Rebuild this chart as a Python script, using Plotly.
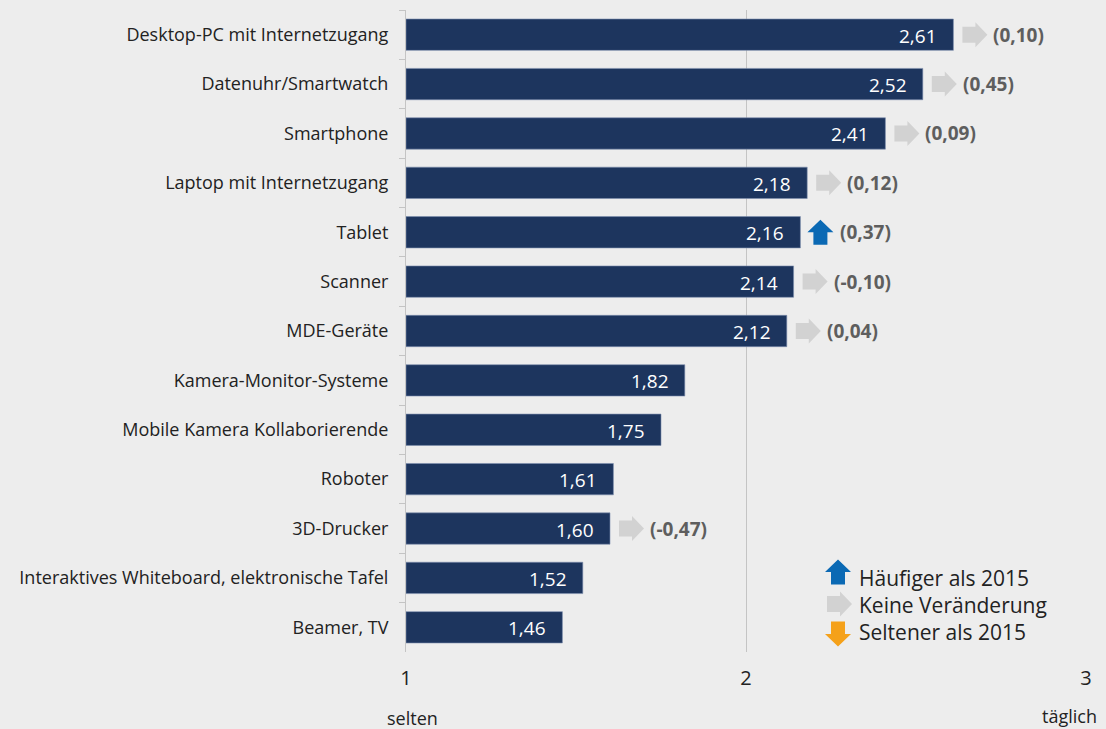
import plotly.graph_objects as go

categories = [
    "Desktop-PC mit Internetzugang",
    "Datenuhr/Smartwatch",
    "Smartphone",
    "Laptop mit Internetzugang",
    "Tablet",
    "Scanner",
    "MDE-Geräte",
    "Kamera-Monitor-Systeme",
    "Mobile Kamera Kollaborierende",
    "Roboter",
    "3D-Drucker",
    "Interaktives Whiteboard, elektronische Tafel",
    "Beamer, TV",
]
values = [2.61, 2.52, 2.41, 2.18, 2.16, 2.14, 2.12, 1.82, 1.75, 1.61, 1.60, 1.52, 1.46]
changes = ["(0,10)", "(0,45)", "(0,09)", "(0,12)", "(0,37)", "(-0,10)", "(0,04)",
           None, None, None, "(-0,47)", None, None]
trends = ["same", "same", "same", "same", "up", "same", "same",
          None, None, None, "same", None, None]
x_ticks = [1, 2, 3]
x_end_labels = ["selten", "täglich"]
legend_items = [("up", "Häufiger als 2015"), ("same", "Keine Veränderung"), ("down", "Seltener als 2015")]

FONT = "Open Sans"
BAR = "#1d355e"
BG = "#ededed"
GRAY_ARROW = "#d2d2d2"
BLUE = "#0b69b4"
ORANGE = "#f5a11a"

def fmt(v):
    return f"{v:.2f}".replace(".", ",")

# arrow paths in pixels (y up)
ARROW_PATHS = {
    "same": "M9,-8 L22,-8 L22,-12.5 L34,0 L22,12.5 L22,8 L9,8 Z",
    "up": "M13,-12.5 L27,-12.5 L27,0 L33,0 L20,12.5 L7,0 L13,0 Z",
    "down": "M13,12.5 L27,12.5 L27,0 L33,0 L20,-12.5 L7,0 L13,0 Z",
}
ARROW_COLORS = {"same": GRAY_ARROW, "up": BLUE, "down": ORANGE}

fig = go.Figure()
fig.add_trace(go.Bar(
    y=categories,
    x=[v - 1 for v in values],
    base=1,
    orientation="h",
    marker=dict(color=BAR, line=dict(color="#7d8fae", width=0.6)),
    width=0.635,
    hoverinfo="skip",
))

annotations = []
shapes = []
for cat, v, ch, tr in zip(categories, values, changes, trends):
    annotations.append(dict(
        x=v, y=cat, xref="x", yref="y", text=fmt(v), showarrow=False,
        xanchor="right", xshift=-14, yshift=-1,
        font=dict(family=FONT, size=19, color="white"),
    ))
    if tr is not None:
        shapes.append(dict(
            type="path", xref="x", yref="y", xsizemode="pixel", ysizemode="pixel",
            xanchor=v, yanchor=cat, path=ARROW_PATHS[tr],
            fillcolor=ARROW_COLORS[tr], line=dict(width=0),
        ))
        annotations.append(dict(
            x=v, y=cat, xref="x", yref="y", text="<b>" + ch + "</b>", showarrow=False,
            xanchor="left", xshift=38, yshift=0,
            font=dict(family=FONT, size=19, color="#5e5e5e"),
        ))

# legend (pixel-positioned in paper space)
leg_arrow_y = [572, 604, 634]
leg_text_y = [578, 605, 632]
for (tr, label), py, ty in zip(legend_items, leg_arrow_y, leg_text_y):
    shapes.append(dict(
        type="path", xref="paper", yref="paper", xsizemode="pixel", ysizemode="pixel",
        xanchor=(818 - 406) / 680, yanchor=(652 - py) / 642, path=ARROW_PATHS[tr],
        fillcolor=ARROW_COLORS[tr], line=dict(width=0),
    ))
    annotations.append(dict(
        x=(857 - 406) / 680, y=(652 - ty) / 642,
        xref="paper", yref="paper", text=label, showarrow=False,
        xanchor="left", yanchor="middle",
        font=dict(family=FONT, size=21, color="#222222"),
    ))

annotations.append(dict(x=1.02, y=-(718 - 652) / 642, xref="x", yref="paper", text=x_end_labels[0],
                        showarrow=False, yanchor="middle", xanchor="center",
                        font=dict(family=FONT, size=18, color="#222222")))
annotations.append(dict(x=2.95, y=-(716 - 652) / 642, xref="x", yref="paper", text=x_end_labels[1],
                        showarrow=False, yanchor="middle", xanchor="center",
                        font=dict(family=FONT, size=18, color="#222222")))

fig.update_layout(
    width=1106, height=729,
    margin=dict(l=406, r=20, t=10, b=77),
    paper_bgcolor=BG, plot_bgcolor=BG,
    showlegend=False,
    bargap=0.365,
    annotations=annotations,
    shapes=shapes,
    font=dict(family=FONT, color="#222222"),
    xaxis=dict(
        range=[1, 3], tickvals=x_ticks, ticktext=[str(t) for t in x_ticks],
        showgrid=True, gridcolor="#c4c4c4", gridwidth=1,
        zeroline=False, showline=False, ticks="",
        ticklabelstandoff=12,
        tickfont=dict(family=FONT, size=20, color="#222222"),
        fixedrange=True,
    ),
    yaxis=dict(
        categoryorder="array", categoryarray=categories, autorange="reversed",
        showline=True, linecolor="#c4c4c4", linewidth=1,
        ticks="outside", ticklen=6, tickcolor="#c4c4c4", tickson="boundaries",
        ticklabelstandoff=13,
        showgrid=False,
        tickfont=dict(family=FONT, size=18, color="#222222"),
        fixedrange=True,
    ),
)

fig.write_html(
    "out.html",
    config={"displayModeBar": False},
    post_script="document.body.style.margin='0px';document.body.style.background='#ededed';",
)
